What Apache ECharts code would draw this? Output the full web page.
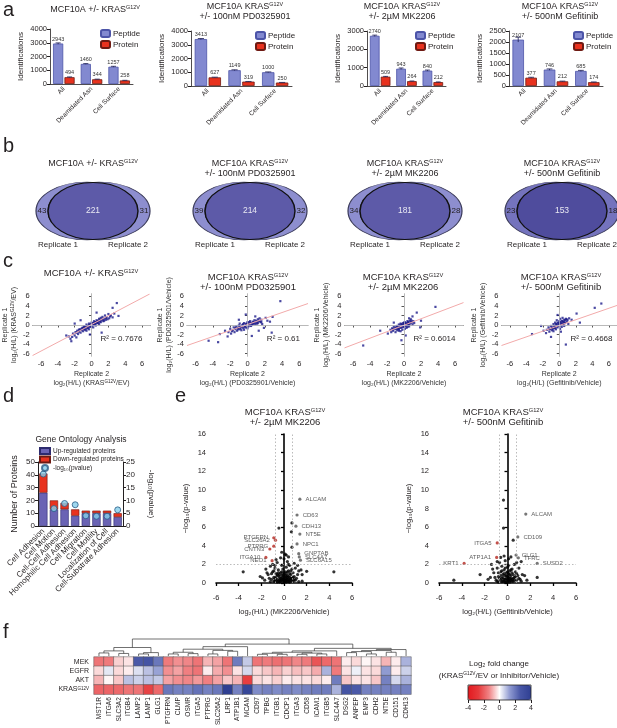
<!DOCTYPE html>
<html>
<head>
<meta charset="UTF-8">
<title>KRAS surfaceome figure</title>
<script src="https://cdn.jsdelivr.net/npm/echarts@6/dist/echarts.min.js"></script>
<style>
html, body { margin: 0; padding: 0; background: #fff; }
#main { width: 617px; height: 728px; }
</style>
</head>
<body>
<div id="main"></div>
<script>
var FONT = '"Liberation Sans", Arial, sans-serif';
var INK = '#231f20';

// ---- a: identifications (mean, error)
var aCats = ['All', 'Deamidated Asn', 'Cell Surface'];
var pepKras = [2943, 1460, 1257], proKras = [494, 344, 258];
var pepPD = [3413, 1149, 1000], proPD = [627, 319, 250];
var pepMK = [2740, 943, 840], proMK = [509, 264, 212];
var pepGef = [2107, 746, 685], proGef = [377, 212, 174];
var errPepKras = [45, 25, 30], errProKras = [20, 10, 10];
var errPepPD = [40, 30, 25], errProPD = [15, 10, 10];
var errPepMK = [35, 40, 30], errProMK = [15, 10, 10];
var errPepGef = [110, 30, 25], errProGef = [20, 10, 10];

// ---- b: venn counts
var vennRep1Only = [43, 39, 34, 23];
var vennBoth = [221, 214, 181, 153];
var vennRep2Only = [31, 32, 28, 18];

// ---- c: replicate correlation
var corrKras = [[-3.0,-2.2],[-2.7,-2.4],[-2.5,-2.9],[-2.4,-3.4],[-2.2,-1.8],[-2.0,-2.2],[-2.0,0.3],[-1.9,-1.5],[-1.8,-2.6],[-1.7,-1.2],[-1.6,-1.9],[-1.5,-1.4],[-1.4,-0.9],[-1.3,-1.6],[-1.3,1.0],[-1.2,-1.1],[-1.1,-0.6],[-1.0,-1.3],[-0.9,-0.8],[-0.9,-0.3],[-0.8,-1.0],[-0.7,-0.5],[-0.6,-1.2],[-0.6,0.1],[-0.5,-0.7],[-0.4,-0.2],[-0.3,-0.9],[-0.3,0.3],[-0.2,-0.4],[-0.2,-2.0],[-0.1,0.2],[0.0,-0.3],[0.0,0.5],[0.1,0.0],[0.2,0.4],[0.2,-0.5],[0.3,0.8],[0.4,0.2],[0.5,0.6],[0.5,-0.1],[0.6,1.0],[0.6,2.6],[0.7,0.4],[0.8,0.9],[0.9,1.3],[0.9,0.2],[1.0,0.7],[1.1,1.5],[1.2,1.0],[1.2,-1.6],[1.3,1.7],[1.4,0.8],[1.5,1.3],[1.6,2.0],[1.7,1.1],[1.8,1.6],[2.0,2.3],[2.1,1.4],[2.3,2.0],[2.5,1.6],[2.5,3.6],[2.7,2.4],[3.0,4.6],[3.2,1.9],
  [-1.8,-1.6],[-1.5,-1.0],[-1.2,-0.8],[-1.0,-0.6],[-0.8,-0.4],[-0.7,-0.9],[-0.5,-0.3],[-0.4,-0.6],[-0.3,0.0],[-0.1,-0.2],[0.1,0.3],[0.3,0.1],[0.4,0.6],[0.6,0.4],[0.7,0.8],[0.8,0.5],[1.0,1.1],[1.1,0.6],[1.3,1.2],[1.5,0.9],[1.7,1.5],[1.9,1.2],[-2.3,-2.5],[2.2,1.8]];
var corrPD = [[-4.5,-3.3],[-3.4,-3.6],[-3.2,-1.9],[-2.6,-1.2],[-2.3,-2.4],[-2.2,-1.5],[-2.0,-0.8],[-1.9,-1.8],[-1.7,-1.1],[-1.6,-0.5],[-1.5,-1.5],[-1.4,-0.9],[-1.3,-0.3],[-1.2,-1.2],[-1.1,-0.6],[-1.0,-0.1],[-1.0,1.1],[-0.9,-0.9],[-0.9,0.3],[-0.8,-0.4],[-0.7,-1.1],[-0.6,0.0],[-0.5,-0.6],[-0.4,0.4],[-0.4,-1.0],[-0.3,-0.2],[-0.2,0.2],[-0.2,2.2],[-0.1,-0.5],[0.0,0.1],[0.0,0.6],[0.1,-0.3],[0.2,0.3],[0.3,-0.1],[0.3,0.8],[0.4,0.4],[0.5,0.0],[0.5,-2.3],[0.6,0.7],[0.7,0.3],[0.8,1.0],[0.9,0.5],[0.9,1.8],[1.0,0.9],[1.1,0.3],[1.2,1.2],[1.3,0.8],[1.3,-1.2],[1.4,1.4],[1.5,0.6],[1.6,1.1],[1.7,0.2],[1.9,-0.6],[2.1,1.5],[2.3,0.9],[2.6,0.7],[2.8,-1.6],[2.9,1.7],[3.8,5.0],
  [-1.8,-1.3],[-1.4,-0.6],[-1.1,-0.9],[-0.8,-0.7],[-0.6,-0.3],[-0.5,0.2],[-0.3,-0.5],[-0.1,0.3],[0.1,0.0],[0.2,0.6],[0.4,-0.2],[0.6,0.2],[0.7,0.6],[0.9,0.2],[1.1,0.7],[1.2,0.4],[1.4,0.9],[1.6,0.6],[0.0,-0.7],[-0.9,-0.3]];
var corrMK = [[-4.8,-4.3],[-2.8,-1.2],[-1.9,-1.8],[-1.6,-1.0],[-1.5,-1.5],[-1.4,-0.7],[-1.3,-1.2],[-1.2,-0.4],[-1.2,0.5],[-1.1,-0.9],[-1.0,-1.5],[-0.9,-0.3],[-0.9,-0.8],[-0.8,-1.1],[-0.7,-0.5],[-0.6,0.1],[-0.6,-0.9],[-0.5,-0.3],[-0.4,-1.3],[-0.4,0.3],[-0.3,-0.6],[-0.3,-3.2],[-0.2,0.0],[-0.2,-1.0],[-0.1,0.4],[0.0,-0.4],[0.0,0.2],[0.1,-0.8],[0.1,0.6],[0.2,-0.2],[0.2,-2.2],[0.3,0.3],[0.3,-0.6],[0.4,0.8],[0.5,0.0],[0.5,0.5],[0.6,-0.3],[0.6,1.4],[0.7,0.9],[0.7,0.3],[0.8,1.2],[0.9,0.5],[1.0,1.8],[1.0,0.1],[1.1,0.8],[1.2,0.4],[1.5,2.6],[1.9,-0.5],[2.0,0.9],[3.7,3.8],
  [-1.3,-0.9],[-1.0,-0.6],[-0.8,-0.2],[-0.7,-0.8],[-0.5,-0.6],[-0.4,-0.1],[-0.3,0.2],[-0.2,-0.4],[-0.1,-0.1],[0.0,0.5],[0.1,0.1],[0.2,0.4],[0.3,0.0],[0.4,0.3],[0.5,0.7],[0.6,0.2],[0.8,0.6],[0.9,0.9],[-0.6,-1.2],[0.4,-0.4]];
var corrGef = [[-3.3,-1.9],[-2.2,-0.2],[-1.9,-1.2],[-1.6,-1.7],[-1.5,-1.0],[-1.3,-0.5],[-1.2,-1.4],[-1.1,-0.8],[-1.0,-2.5],[-1.0,-0.2],[-0.9,-1.1],[-0.8,-0.5],[-0.7,0.2],[-0.7,-1.3],[-0.6,-0.7],[-0.5,0.5],[-0.5,-0.2],[-0.4,-0.9],[-0.3,0.1],[-0.3,1.0],[-0.2,-0.5],[-0.2,2.1],[-0.1,0.4],[0.0,-0.2],[0.0,0.8],[0.1,1.3],[0.1,-0.8],[0.2,0.3],[0.2,-1.4],[0.3,0.9],[0.3,-0.4],[0.4,1.5],[0.4,0.1],[0.5,0.6],[0.6,1.1],[0.6,-0.2],[0.7,0.4],[0.8,-4.1],[0.8,1.3],[0.9,0.7],[1.0,1.0],[1.1,0.2],[1.2,1.4],[1.5,1.1],[2.1,2.4],[2.5,0.5],[4.3,3.6],[5.1,4.5],
  [-0.9,-0.6],[-0.8,-0.9],[-0.6,-0.3],[-0.5,-0.6],[-0.4,0.2],[-0.3,-0.3],[-0.2,0.5],[-0.1,0.0],[0.0,0.3],[0.1,0.6],[0.2,0.0],[0.3,0.5],[0.4,0.8],[0.5,0.2],[0.6,0.6],[0.7,1.0],[0.9,1.2],[-1.2,-0.9]];
var fitKras = [[-7, -6.4], [6.9, 6.5]];
var fitPD = [[-7, -4.3], [7, 4.5]];
var fitMK = [[-7, -4.8], [7, 4.7]];
var fitGef = [[-7, -4.3], [7, 4.1]];
var r2Values = ['0.7676', '0.61', '0.6014', '0.4668'];
var corrTicks = [-6, -4, -2, 0, 2, 4, 6];

// ---- d: gene ontology
var goTerms = ['Cell Adhesion', 'Cell Motion', 'Cell-Cell Adhesion', 'Homophilic Cell Adhesion', 'Cell Migration', 'Cell Motility', 'Localization of Cell', 'Cell-Substrate Adhesion'];
var goUp = [26, 13, 13, 8, 10, 10, 10, 7];
var goDown = [15, 7, 5, 5, 2, 2, 2, 3];
var goLogP = [20.3, 6.8, 8.8, 8.3, 4.0, 3.8, 3.8, 6.3];

// ---- e: volcano plots
var volMK = [[-3.6,1.2],[-2.1,0.7],[-1.9,0.55],[-1.6,1.5],[-1.4,0.9],[-1.2,1.8],[-1.2,0.15],[-1.1,0.4],[-1.0,1.2],[-0.9,0.6],[-0.8,1.6],[-0.8,0.2],[-0.7,1.0],[-0.7,2.5],[-0.6,0.4],[-0.6,2.2],[-0.5,0.8],[-0.5,1.4],[-0.45,5.9],[-0.4,0.1],[-0.4,0.6],[-0.3,1.1],[-0.3,0.3],[-0.3,2.7],[-0.2,1.9],[-0.2,0.5],[-0.2,3.3],[-0.1,0.2],[-0.1,0.9],[-0.1,1.5],[0.0,0.1],[0.0,0.4],[0.0,0.7],[0.0,2.6],[0.1,0.3],[0.1,1.2],[0.1,3.1],[0.2,0.1],[0.2,0.5],[0.2,1.7],[0.2,3.0],[0.3,0.8],[0.3,0.2],[0.3,2.3],[0.4,0.4],[0.4,1.3],[0.4,2.8],[0.5,0.1],[0.5,0.6],[0.5,1.9],[0.6,0.9],[0.6,0.3],[0.65,5.5],[0.7,1.5],[0.7,0.5],[0.7,3.85],[0.7,6.45],[0.8,0.2],[0.8,1.1],[0.9,0.7],[0.9,2.1],[1.0,0.3],[1.0,1.6],[1.2,0.9],[1.3,1.3],[1.5,1.4],[1.6,0.2],[2.0,1.25],[4.4,1.2],
  [-1.3,0.5],[-1.1,1.0],[-0.9,0.2],[-0.9,1.3],[-0.8,0.5],[-0.7,0.3],[-0.7,0.7],[-0.6,0.9],[-0.6,0.1],[-0.5,0.2],[-0.5,1.1],[-0.4,0.3],[-0.4,0.9],[-0.3,0.5],[-0.3,0.15],[-0.2,0.3],[-0.2,0.8],[-0.2,1.2],[-0.1,0.4],[-0.1,0.6],[0.0,0.25],[0.0,0.9],[0.0,1.1],[0.1,0.15],[0.1,0.5],[0.1,0.8],[0.2,0.3],[0.2,0.7],[0.2,1.0],[0.3,0.4],[0.3,0.6],[0.3,1.2],[0.4,0.15],[0.4,0.7],[0.5,0.3],[0.5,1.0],[0.6,0.5],[0.6,1.3],[0.7,0.2],[0.8,0.6],[0.9,0.35],[1.1,0.5],[-1.5,1.1],[-1.7,0.3],[1.3,0.15],[1.6,0.9],[-0.8,1.9],[0.4,2.0],[1.2,1.9],[-1.0,2.0]];
var volMKUp = [[1.4,9.0,'ALCAM'],[1.15,7.3,'CD63'],[1.05,6.1,'CDH13'],[1.4,5.25,'NT5E'],[1.15,4.2,'NPC1'],[1.3,3.15,'GNPTAB'],[1.35,2.8,'SLC4A7'],[1.45,2.45,'SLC6A15']];
var volMKDown = [[-0.9,4.85,'PTGFRN'],[-0.75,4.6,'SLC26A2'],[-0.9,3.95,'PTPRG'],[-1.25,3.65,'CNTN3'],[-1.6,2.75,'ITGA10'],[-1.05,2.4,'NEO1']];
var volGef = [[-4.7,0.3],[-2.4,0.9],[-1.5,0.6],[-1.4,2.0],[-1.2,1.1],[-1.0,0.3],[-0.9,1.6],[-0.8,0.7],[-0.8,0.1],[-0.7,2.2],[-0.6,0.3],[-0.6,1.2],[-0.6,2.75],[-0.5,0.5],[-0.5,1.8],[-0.4,0.9],[-0.4,0.2],[-0.35,8.9],[-0.35,5.9],[-0.3,1.4],[-0.3,0.4],[-0.3,2.9],[-0.2,2.4],[-0.2,0.8],[-0.2,0.1],[-0.1,0.5],[-0.1,1.1],[0.0,0.2],[0.0,0.7],[0.0,1.7],[0.1,0.3],[0.1,1.0],[0.1,2.6],[0.2,0.5],[0.2,1.3],[0.2,0.1],[0.3,0.8],[0.3,0.3],[0.3,2.8],[0.4,1.5],[0.4,0.4],[0.5,0.9],[0.5,0.2],[0.5,4.6],[0.6,2.0],[0.6,0.6],[0.7,1.2],[0.8,0.3],[0.9,0.8],[1.0,1.6],[1.1,0.4],[1.2,2.3],[1.3,0.9],[1.5,0.8],[2.6,0.6],
  [-1.1,0.6],[-0.9,0.2],[-0.8,1.1],[-0.7,0.5],[-0.6,0.8],[-0.5,0.15],[-0.5,1.3],[-0.4,0.6],[-0.3,0.2],[-0.3,1.0],[-0.2,0.4],[-0.2,1.6],[-0.1,0.15],[-0.1,0.8],[0.0,0.4],[0.0,1.2],[0.1,0.6],[0.1,1.9],[0.2,0.25],[0.2,0.9],[0.3,0.5],[0.3,1.4],[0.4,0.2],[0.4,1.1],[0.5,0.5],[0.6,0.3],[0.7,0.7],[0.8,1.0],[1.0,0.5],[1.2,0.2],[-1.7,0.4],[-1.3,1.5],[-0.9,2.3],[0.8,2.2],[1.7,0.3]];
var volGefUp = [[1.6,7.4,'ALCAM'],[0.9,4.95,'CD109'],[0.75,3.0,'GLG1'],[0.95,2.7,'TFRC'],[2.6,2.1,'SUSD2']];
var volGefDown = [[-0.9,4.3,'ITGA5'],[-0.95,2.75,'ATP1A1'],[-3.8,2.1,'KRT1']];

// ---- f: heatmap
var genes = ['MST1R','ITGA6','SLC3A2','ITGB4','LAMP2','LAMP1','GLG1','PTGFRN','CLMP','OSMR','ITGA5','PTPRG','SLC26A2','LRP1','ATP1B1','MCAM','CD97','TPBG','ITGB1','CDCP1','ITGA3','CD58','ICAM1','ITGB5','SLC4A7','DSG2','ANPEP','EMP3','CDH2','NT5E','CD151','CDH13'];
var hmRows = ['MEK', 'EGFR', 'AKT', 'KRAS{s|G12V}'];
var fcMEK = [-1.6,-1.5,-0.5,-0.3,2.6,2.8,2.0,-1.5,-1.2,-1.3,-1.6,-0.8,-1.0,-1.6,1.9,0.7,-1.6,-1.5,-1.7,-1.6,-1.3,-1.5,-2.2,-1.8,-1.6,-0.2,-0.4,-0.1,-0.3,-0.8,-0.2,1.0];
var fcEGFR = [-0.4,0.3,-0.4,-0.2,0.4,0.8,1.2,-1.2,-1.0,-1.4,-1.6,-0.2,-0.9,-1.2,-0.3,0.5,-0.4,-0.6,-0.8,-0.5,-0.7,-0.6,-0.9,1.0,-1.5,-0.3,0.2,-0.3,-0.4,1.3,-0.2,0.6];
var fcAKT = [-0.8,-0.1,-0.6,0.8,0.6,0.8,0.7,-1.0,-1.2,-1.3,-1.1,-1.4,-1.0,-0.6,-0.8,-2.6,-0.4,-0.3,-0.5,-0.2,-0.3,-0.3,-0.4,-0.2,1.9,-0.6,-0.3,-0.3,-0.6,1.8,0.5,1.0];
var fcKRAS = [-1.9,-1.9,-1.8,-1.6,-1.6,-2.5,-1.8,2.0,1.8,1.8,2.1,1.8,2.0,4.0,1.8,3.6,1.6,1.8,1.6,1.8,1.6,1.8,1.9,1.9,1.0,2.8,2.6,1.8,1.8,1.8,1.8,1.8];
// [childA, childB, height]; leaves are 0..31, merged nodes numbered from 32
var dendroMerges = [[0,1,0.18],[2,3,0.15],[32,33,0.3],[4,5,0.12],[35,6,0.2],[34,36,0.5],
  [7,8,0.12],[9,10,0.14],[38,39,0.22],[11,12,0.12],[13,14,0.28],[41,42,0.33],[40,43,0.4],[44,15,0.55],
  [16,17,0.1],[18,19,0.1],[46,47,0.16],[20,21,0.1],[22,23,0.12],[49,50,0.17],[51,48,0.22],[52,24,0.3],
  [25,26,0.2],[27,28,0.12],[54,55,0.26],[29,30,0.22],[56,57,0.32],[58,31,0.38],[53,59,0.45],[45,60,0.7],[37,61,1.0]];
var fcColours = ['#e3191f', '#e63a3c', '#f08385', '#ffffff', '#8d98d0', '#4756a6', '#2f3f92'];

var grids = [], xAxes = [], yAxes = [], series = [], graphics = [], legends = [];
function grid(l, t, w, h) { grids.push({left: l, top: t, width: w, height: h}); return grids.length - 1; }
function xAxis(o) { xAxes.push(o); return xAxes.length - 1; }
function yAxis(o) { yAxes.push(o); return yAxes.length - 1; }
function plain(v) { return String(v); }
function sup(size) {
  return {s: {fontSize: size, fontFamily: FONT, lineHeight: size + 1, verticalAlign: 'top', color: INK, fill: INK}};
}
function txt(str, x, y, size, opt) {
  opt = opt || {};
  graphics.push({
    type: 'text', x: x, y: y, rotation: opt.rot || 0, z: 100,
    style: {
      text: String(str), fontSize: size, fontFamily: FONT, fill: opt.fill || INK,
      align: opt.align || 'center', verticalAlign: opt.va || 'middle',
      lineHeight: opt.lh || Math.round(size * 1.15), rich: sup(Math.round(size * 0.6 * 10) / 10)
    }
  });
}
function ellipse(x, y, rx, ry, fill, stroke, lw) {
  graphics.push({type: 'circle', x: x, y: y, scaleX: rx / ry, shape: {cx: 0, cy: 0, r: ry},
    style: {fill: fill, stroke: stroke, lineWidth: lw, strokeNoScale: true}});
}
// error bar for one of two grouped bars (side -1 = first bar, +1 = second)
function errorBars(side) {
  return function (params, api) {
    var hi = api.coord([api.value(0), api.value(1) + api.value(2)]);
    var lo = api.coord([api.value(0), api.value(1) - api.value(2)]);
    var w = api.size([1, 0])[0] * 0.78 / 2.12;
    var x = hi[0] + side * (w / 2 + 0.06 * w);
    var st = {stroke: '#1a1a50', lineWidth: 0.8};
    return {type: 'group', children: [
      {type: 'line', shape: {x1: x, y1: hi[1], x2: x, y2: lo[1]}, style: st},
      {type: 'line', shape: {x1: x - w * 0.25, y1: hi[1], x2: x + w * 0.25, y2: hi[1]}, style: st}
    ]};
  };
}
var thinAxis = {lineStyle: {color: INK, width: 0.8}};

// panel letters
txt('a', 3, 10, 20, {align: 'left'});
txt('b', 3, 146, 20, {align: 'left'});
txt('c', 3, 261, 20, {align: 'left'});
txt('d', 3, 396, 20, {align: 'left'});
txt('e', 175, 396, 20, {align: 'left'});
txt('f', 3, 632, 20, {align: 'left'});

// ---------- a
var aSets = [[pepKras, proKras, errPepKras, errProKras], [pepPD, proPD, errPepPD, errProPD],
  [pepMK, proMK, errPepMK, errProMK], [pepGef, proGef, errPepGef, errProGef]];
var aLayout = [
  {cx: 95, ty: 5, title: 'MCF10A +/- KRAS{s|G12V}', box: [50, 29, 83, 55], max: 4000, step: 1000, leg: [100, 29]},
  {cx: 245, ty: 2, title: 'MCF10A KRAS{s|G12V}\n+/- 100nM PD0325901', box: [191, 31, 101, 55], max: 4000, step: 1000, leg: [255, 31]},
  {cx: 402, ty: 2, title: 'MCF10A KRAS{s|G12V}\n+/- 2µM MK2206', box: [367, 31, 79, 55], max: 3000, step: 1000, leg: [415, 31]},
  {cx: 560, ty: 2, title: 'MCF10A KRAS{s|G12V}\n+/- 500nM Gefitinib', box: [509, 31, 94, 55], max: 2500, step: 500, leg: [573, 31]}
];
aLayout.forEach(function (L, i) {
  var S = aSets[i];
  var g = grid(L.box[0], L.box[1], L.box[2], L.box[3]);
  var xi = xAxis({gridIndex: g, type: 'category', data: aCats, axisLine: thinAxis,
    axisTick: {alignWithLabel: true, length: 3, lineStyle: {color: INK}},
    axisLabel: {rotate: 45, interval: 0, fontSize: 6.5, margin: 4, color: INK, fontFamily: FONT}});
  var yi = yAxis({gridIndex: g, type: 'value', min: 0, max: L.max, interval: L.step, splitLine: {show: false},
    axisLine: {show: true, lineStyle: {color: INK, width: 0.8}}, axisTick: {show: true, length: 3, lineStyle: {color: INK}},
    axisLabel: {fontSize: 7.5, margin: 3, color: INK, fontFamily: FONT, formatter: plain},
    name: 'Identifications', nameLocation: 'middle', nameGap: 25, nameTextStyle: {fontSize: 8, color: INK, fontFamily: FONT}});
  var lab = {show: true, position: 'top', fontSize: 5.5, distance: 1.5, color: '#333', fontFamily: FONT, formatter: function (p) { return String(p.value); }};
  series.push({type: 'bar', name: 'Peptide', xAxisIndex: xi, yAxisIndex: yi, data: S[0], barGap: '12%', barCategoryGap: '22%',
    itemStyle: {color: '#8289d0', borderColor: '#4c54a8', borderWidth: 0.8}, label: lab});
  series.push({type: 'bar', name: 'Protein', xAxisIndex: xi, yAxisIndex: yi, data: S[1],
    itemStyle: {color: '#e8321e', borderColor: '#6e1a12', borderWidth: 0.8}, label: lab});
  [0, 1].forEach(function (k) {
    series.push({type: 'custom', xAxisIndex: xi, yAxisIndex: yi, silent: true, z: 3,
      data: S[k].map(function (v, c) { return [c, v, S[k + 2][c]]; }), renderItem: errorBars(k === 0 ? -1 : 1)});
  });
  legends.push({left: L.leg[0], top: L.leg[1], orient: 'vertical', itemWidth: 9, itemHeight: 7, itemGap: 2, padding: 0,
    selectedMode: false, data: ['Peptide', 'Protein'], textStyle: {fontSize: 8, color: INK, fontFamily: FONT, padding: [0, 0, 0, -2]}});
  txt(L.title, L.cx, L.ty, 9, {va: 'top', lh: 10});
});

// ---------- b
var vennCx = [93, 250, 405, 562];
var vennTitles = ['MCF10A +/- KRAS{s|G12V}', 'MCF10A KRAS{s|G12V}\n+/- 100nM PD0325901', 'MCF10A KRAS{s|G12V}\n+/- 2µM MK2206', 'MCF10A KRAS{s|G12V}\n+/- 500nM Gefitinib'];
vennCx.forEach(function (cx, i) {
  var light = i === 3 ? '#7473bd' : '#8d8ecf', dark = i === 3 ? '#4f4c9d' : '#5d5aa8';
  ellipse(cx - 6, 211, 51, 29, light, '#3a3a5a', 0.7);
  ellipse(cx + 6, 211, 51, 29, light, '#3a3a5a', 0.7);
  ellipse(cx, 211, 45, 28.5, dark, '#111', 0.9);
  txt(vennRep1Only[i], cx - 51, 211, 8);
  txt(vennBoth[i], cx, 211, 8.5, {fill: '#e8e8f2'});
  txt(vennRep2Only[i], cx + 51, 211, 8);
  txt('Replicate 1', cx - 35, 245, 8);
  txt('Replicate 2', cx + 35, 245, 8);
  txt(vennTitles[i], cx, 159, 9, {va: 'top', lh: 10});
});

// ---------- c
var corrSets = [corrKras, corrPD, corrMK, corrGef];
var fitSets = [fitKras, fitPD, fitMK, fitGef];
var corrLayout = [
  {cx: 91, ty: 268, title: 'MCF10A +/- KRAS{s|G12V}', box: [31.5, 294, 119, 62], ratio: 'KRAS{s|G12V}/EV'},
  {cx: 248, ty: 272, title: 'MCF10A KRAS{s|G12V}\n+/- 100nM PD0325901', box: [187, 294, 121, 62], ratio: 'PD0325901/Vehicle'},
  {cx: 403, ty: 272, title: 'MCF10A KRAS{s|G12V}\n+/- 2µM MK2206', box: [344.5, 294, 119, 62], ratio: 'MK2206/Vehicle'},
  {cx: 561, ty: 272, title: 'MCF10A KRAS{s|G12V}\n+/- 500nM Gefitinib', box: [501.5, 294, 119, 62], ratio: 'Gefitinib/Vehicle'}
];
corrLayout.forEach(function (L, i) {
  var g = grid(L.box[0], L.box[1], L.box[2], L.box[3]);
  var axName = {fontSize: 7, lineHeight: 9, color: '#333', fontFamily: FONT, rich: sup(4.5)};
  var xi = xAxis({gridIndex: g, type: 'value', min: -7, max: 7, splitLine: {show: false},
    axisLine: {lineStyle: {color: '#555', width: 0.7}}, axisTick: {customValues: corrTicks, length: 2.5, lineStyle: {color: '#555'}},
    axisLabel: {customValues: corrTicks, fontSize: 7.5, margin: 4, color: INK, fontFamily: FONT},
    name: 'Replicate 2\nlog₂(H/L) (' + L.ratio + ')', nameLocation: 'middle', nameGap: 14, nameTextStyle: axName});
  var yi = yAxis({gridIndex: g, type: 'value', min: -6.5, max: 6.5, splitLine: {show: false},
    axisLine: {show: true, lineStyle: {color: '#555', width: 0.7}}, axisTick: {show: true, customValues: corrTicks, length: 2.5, lineStyle: {color: '#555'}},
    axisLabel: {customValues: corrTicks, fontSize: 7.5, margin: 3, color: INK, fontFamily: FONT},
    name: 'Replicate 1\nlog₂(H/L) (' + L.ratio + ')', nameLocation: 'middle', nameGap: 11, nameTextStyle: axName});
  series.push({type: 'line', xAxisIndex: xi, yAxisIndex: yi, data: fitSets[i], showSymbol: false, silent: true,
    lineStyle: {color: '#f2aaaa', width: 1},
    markLine: {silent: true, symbol: 'none', label: {show: false}, lineStyle: {color: '#dcdcdc', width: 0.6, type: 'solid'},
      data: [{xAxis: 0}, {yAxis: 0}]}});
  series.push({type: 'scatter', xAxisIndex: xi, yAxisIndex: yi, data: corrSets[i], symbol: 'rect', symbolSize: 2.2,
    itemStyle: {color: '#1c1a8a'}, silent: true});
  txt('R² = ' + r2Values[i], L.box[0] + L.box[2] - 8, 339, 8, {align: 'right'});
  txt(L.title, L.cx, L.ty, 9.5, {va: 'top', lh: 10});
});

// ---------- d
(function () {
  var g = grid(38, 462, 85, 64);
  var xi = xAxis({gridIndex: g, type: 'category', data: goTerms, axisLine: {lineStyle: {color: INK, width: 1}},
    axisTick: {alignWithLabel: true, length: 3, lineStyle: {color: INK}},
    axisLabel: {rotate: 45, interval: 0, fontSize: 8, margin: 4, color: INK, fontFamily: FONT}});
  var yl = yAxis({gridIndex: g, type: 'value', min: 0, max: 50, interval: 10, splitLine: {show: false},
    axisLine: {show: true, lineStyle: {color: INK, width: 1}}, axisTick: {show: true, length: 3, lineStyle: {color: INK}},
    axisLabel: {fontSize: 8, margin: 3, color: INK, fontFamily: FONT},
    name: 'Number of Proteins', nameLocation: 'middle', nameGap: 19, nameTextStyle: {fontSize: 9, color: INK, fontFamily: FONT}});
  var yr = yAxis({gridIndex: g, type: 'value', position: 'right', min: 0, max: 25, interval: 5, splitLine: {show: false},
    axisLine: {show: true, lineStyle: {color: INK, width: 1}}, axisTick: {show: true, length: 3, lineStyle: {color: INK}},
    axisLabel: {fontSize: 8, margin: 3, color: INK, fontFamily: FONT},
    name: '-log₁₀(pvalue)', nameLocation: 'middle', nameRotate: -90, nameGap: 24, nameTextStyle: {fontSize: 8, color: INK, fontFamily: FONT}});
  series.push({type: 'bar', name: 'Up-regulated proteins', stack: 'go', xAxisIndex: xi, yAxisIndex: yl, data: goUp, barCategoryGap: '22%',
    itemStyle: {color: '#6a63b4', borderColor: '#2d2a6e', borderWidth: 0.6}});
  series.push({type: 'bar', name: 'Down-regulated proteins', stack: 'go', xAxisIndex: xi, yAxisIndex: yl, data: goDown,
    itemStyle: {color: '#e8321e', borderColor: '#6e1a12', borderWidth: 0.6}});
  series.push({type: 'scatter', name: '-log₁₀(pvalue)', xAxisIndex: xi, yAxisIndex: yr, data: goLogP, symbolSize: 6,
    itemStyle: {color: '#86cdea', borderColor: '#2a5d86', borderWidth: 1}});
  legends.push({left: 39, top: 447, orient: 'vertical', itemWidth: 10, itemHeight: 6, itemGap: 0.5, padding: 0, selectedMode: false,
    data: [{name: 'Up-regulated proteins', icon: 'rect'}, {name: 'Down-regulated proteins', icon: 'rect'}, {name: '-log₁₀(pvalue)', icon: 'circle'}],
    textStyle: {fontSize: 6.5, color: INK, fontFamily: FONT, padding: [0, 0, 0, -2]}});
  txt('Gene Ontology Analysis', 81, 440, 8.5);
})();

// ---------- e
var volLayout = [
  {cx: 285, title: 'MCF10A KRAS{s|G12V}\n+/- 2µM MK2206', box: [216, 434, 136, 149], xname: 'log₂(H/L) (MK2206/Vehicle)', pts: volMK, up: volMKUp, down: volMKDown},
  {cx: 503, title: 'MCF10A KRAS{s|G12V}\n+/- 500nM Gefitinib', box: [439, 434, 137, 149], xname: 'log₂(H/L) (Gefitinib/Vehicle)', pts: volGef, up: volGefUp, down: volGefDown}
];
volLayout.forEach(function (L) {
  var g = grid(L.box[0], L.box[1], L.box[2], L.box[3]);
  var bold = {lineStyle: {color: '#000', width: 1.6}};
  var xi = xAxis({gridIndex: g, type: 'value', min: -6, max: 6, interval: 2, offset: 6, splitLine: {show: false},
    axisLine: bold, axisTick: {length: 3, lineStyle: {color: '#000', width: 1.3}},
    axisLabel: {fontSize: 7.5, margin: 5, color: INK, fontFamily: FONT},
    name: L.xname, nameLocation: 'middle', nameGap: 19, nameTextStyle: {fontSize: 7.5, color: INK, fontFamily: FONT}});
  var yi = yAxis({gridIndex: g, type: 'value', min: 0, max: 16, interval: 2, offset: 6, splitLine: {show: false},
    axisLine: {show: true, lineStyle: {color: '#000', width: 1.6}}, axisTick: {show: true, length: 3, lineStyle: {color: '#000', width: 1.3}},
    axisLabel: {fontSize: 7.5, margin: 4, color: INK, fontFamily: FONT},
    name: '−log₁₀(p-value)', nameLocation: 'middle', nameGap: 20, nameTextStyle: {fontSize: 7.5, color: INK, fontFamily: FONT}});
  series.push({type: 'scatter', xAxisIndex: xi, yAxisIndex: yi, data: L.pts, symbolSize: 3.2, silent: true,
    itemStyle: {color: '#000'},
    markLine: {silent: true, symbol: 'none', label: {show: false}, lineStyle: {color: '#aaa', width: 0.8, type: [1.5, 2]},
      data: [{xAxis: -0.75}, {xAxis: 0.75}, {yAxis: 2}]}});
  function labeled(arr, color, pos) {
    return arr.map(function (p) {
      return {name: p[2], value: [p[0], p[1]], itemStyle: {color: color},
        label: {show: true, formatter: '{b}', position: pos, distance: 4, fontSize: 6, color: '#333', fontFamily: FONT}};
    });
  }
  series.push({type: 'scatter', xAxisIndex: xi, yAxisIndex: yi, data: labeled(L.up, '#555', 'right'), symbolSize: 3.2, silent: true});
  series.push({type: 'scatter', xAxisIndex: xi, yAxisIndex: yi, data: labeled(L.down, '#b3261e', 'left'), symbolSize: 3.2, silent: true});
  txt(L.title, L.cx, 407, 9.5, {va: 'top', lh: 10});
});

// ---------- f
var hmSeriesIndex;
(function () {
  var g = grid(94, 657, 317, 38);
  var xi = xAxis({gridIndex: g, type: 'category', data: genes, axisLine: {show: false}, axisTick: {show: false},
    axisLabel: {rotate: 90, interval: 0, fontSize: 6.5, margin: 3, color: INK, fontFamily: FONT}});
  var yi = yAxis({gridIndex: g, type: 'category', data: hmRows, inverse: true, axisLine: {show: false}, axisTick: {show: false},
    axisLabel: {fontSize: 7, margin: 5, color: INK, fontFamily: FONT, rich: sup(4.5)}});
  var rows = [fcMEK, fcEGFR, fcAKT, fcKRAS], cells = [];
  rows.forEach(function (r, ri) { r.forEach(function (v, ci) { cells.push([ci, ri, v]); }); });
  series.push({type: 'heatmap', xAxisIndex: xi, yAxisIndex: yi, data: cells, silent: true,
    itemStyle: {borderColor: '#555', borderWidth: 0.5}});
  hmSeriesIndex = series.length - 1;

  // dendrogram over the columns
  var dg = grid(94, 639, 317, 17);
  var dx = xAxis({gridIndex: dg, type: 'value', min: -0.5, max: genes.length - 0.5, show: false});
  var dy = yAxis({gridIndex: dg, type: 'value', min: 0, max: 1, show: false});
  var nx = genes.map(function (_, i) { return i; }), nh = genes.map(function () { return 0; }), links = [];
  dendroMerges.forEach(function (m) {
    links.push([nx[m[0]], nh[m[0]], nx[m[1]], nh[m[1]], m[2]]);
    nx.push((nx[m[0]] + nx[m[1]]) / 2); nh.push(m[2]);
  });
  series.push({type: 'custom', xAxisIndex: dx, yAxisIndex: dy, data: links, silent: true, clip: false,
    renderItem: function (params, api) {
      var pts = [api.coord([api.value(0), api.value(1)]), api.coord([api.value(0), api.value(4)]),
        api.coord([api.value(2), api.value(4)]), api.coord([api.value(2), api.value(3)])];
      return {type: 'polyline', shape: {points: pts}, style: {stroke: '#333', lineWidth: 0.7, fill: null}};
    }});

  // colour bar tick axis
  var cg = grid(468, 685, 63, 15);
  var cx = xAxis({gridIndex: cg, type: 'value', min: -4, max: 4, interval: 2, splitLine: {show: false},
    axisLine: {show: false}, axisTick: {length: 3, lineStyle: {color: INK}},
    axisLabel: {fontSize: 7, margin: 5, color: INK, fontFamily: FONT}});
  var cy = yAxis({gridIndex: cg, type: 'value', show: false});
  series.push({type: 'scatter', xAxisIndex: cx, yAxisIndex: cy, data: []});
  graphics.push({type: 'rect', shape: {x: 468, y: 685, width: 63, height: 15}, z: 100,
    style: {fill: null, stroke: '#222', lineWidth: 0.8}});
  txt('Log₂ fold change', 499, 664, 8);
  txt('(KRAS{s|G12V}/EV or Inhibitor/Vehicle)', 499, 676, 8);
})();

var chart = echarts.init(document.getElementById('main'));
var option = {
  animation: false,
  textStyle: {fontFamily: FONT, color: INK},
  grid: grids,
  xAxis: xAxes,
  yAxis: yAxes,
  legend: legends,
  visualMap: [{
    type: 'continuous', min: -4, max: 4, seriesIndex: hmSeriesIndex, orient: 'horizontal',
    left: 468, top: 685, itemWidth: 15, itemHeight: 63, padding: 0, calculable: false, hoverLink: false,
    text: null, showLabel: false, inRange: {color: fcColours}
  }],
  series: series,
  graphic: {elements: graphics}
};
chart.setOption(option);
</script>
</body>
</html>
